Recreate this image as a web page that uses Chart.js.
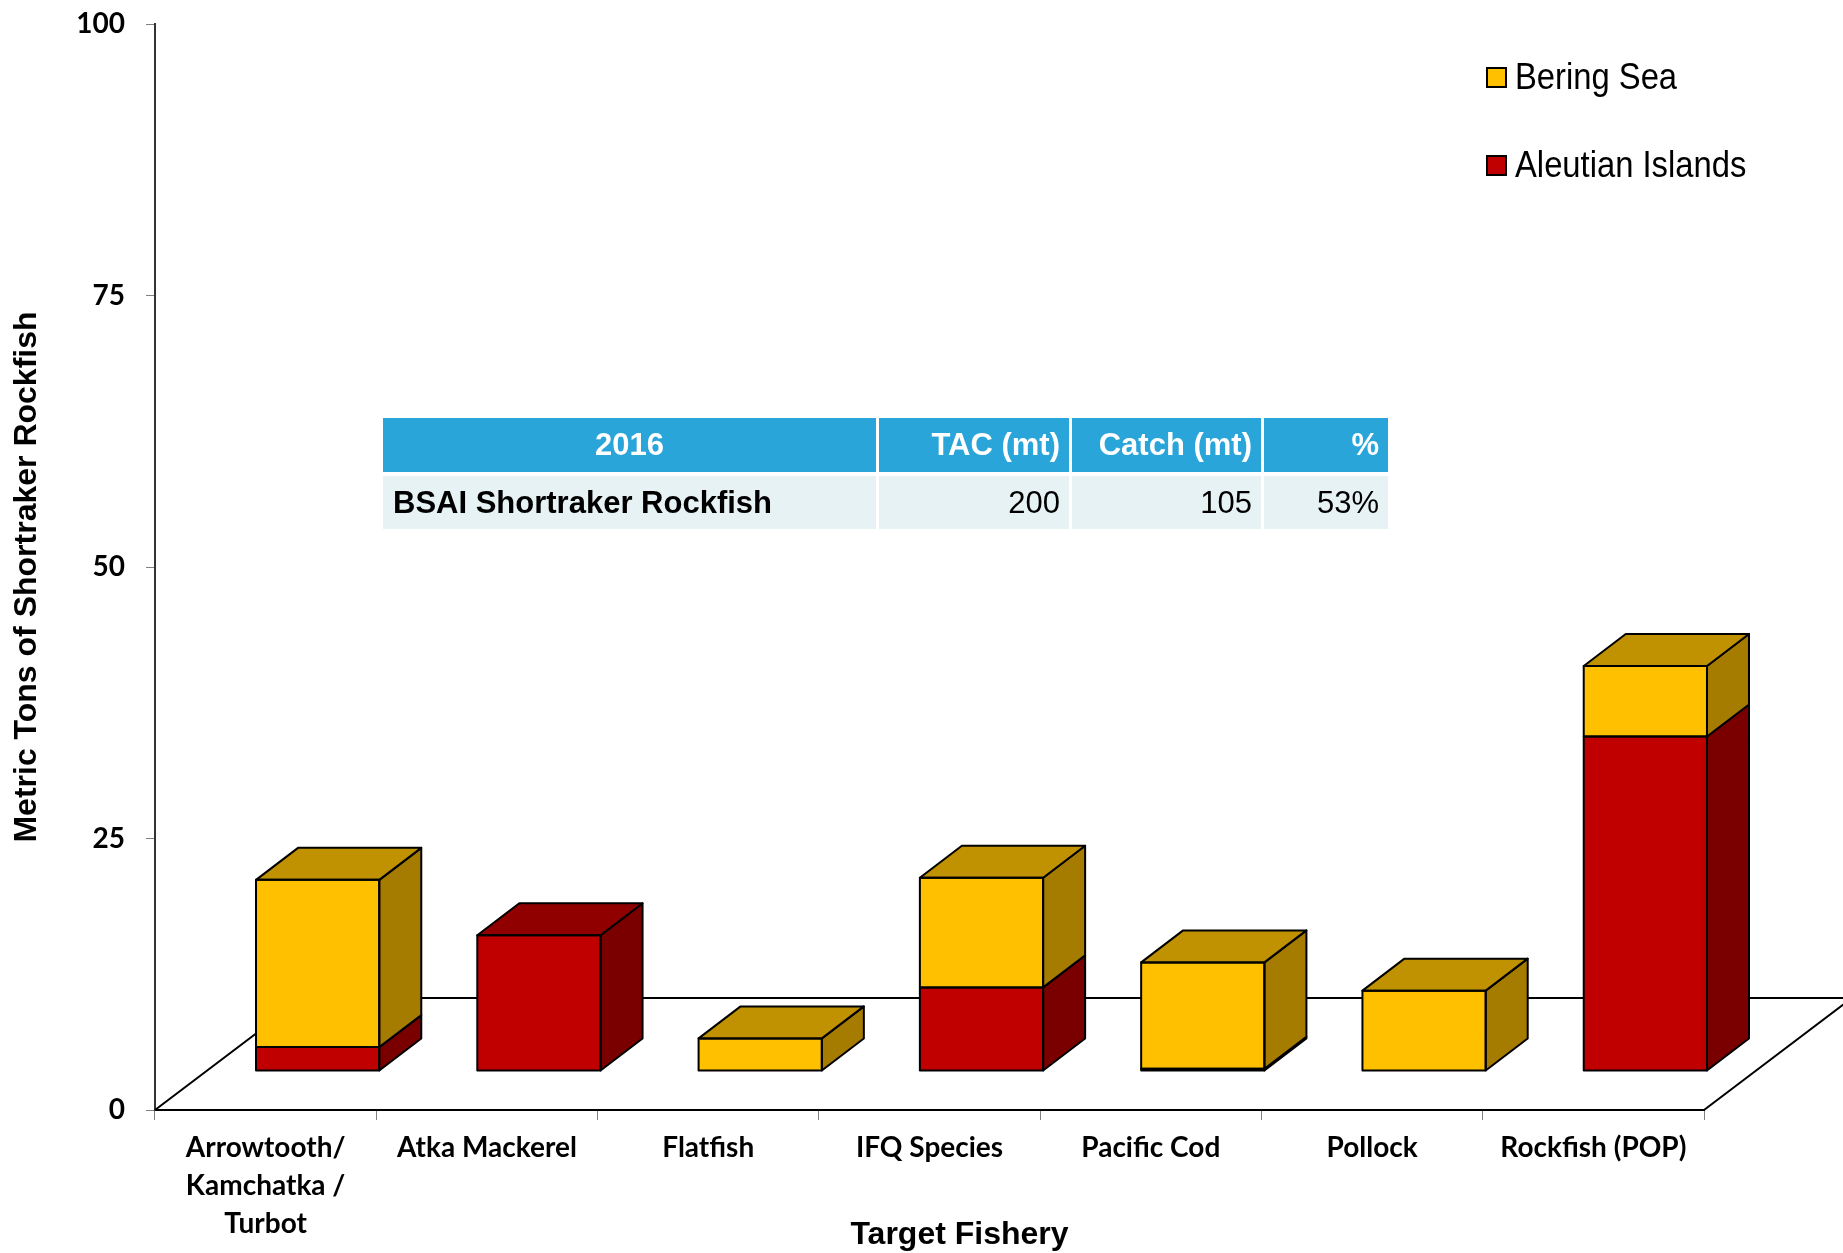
<!DOCTYPE html>
<html>
<head>
<meta charset="utf-8">
<script src="https://cdn.jsdelivr.net/npm/chart.js@4.4.1/dist/chart.umd.min.js"></script>
<style>
  html, body { margin: 0; padding: 0; background: #fff; }
  #wrap { position: relative; width: 1843px; height: 1253px; }
  #chart { position: absolute; left: 0; top: 0; }
  #tac {
    position: absolute; left: 380px; top: 414px;
    border-collapse: separate; border-spacing: 3px 4px;
    table-layout: fixed;
    font-family: 'Liberation Sans', Arial, sans-serif; font-size: 31px;
  }
  #tac td { box-sizing: border-box; padding: 0 9px; white-space: nowrap; }
  #tac tr.head td { background: #2AA5D9; color: #fff; font-weight: bold; height: 54px; text-align: right; }
  #tac tr.body td { background: #E7F2F4; color: #000; height: 53px; text-align: right; }
  #tac tr.head td:first-child { text-align: center; }
  #tac tr.body td:first-child { text-align: left; font-weight: bold; padding-left: 10px; }
</style>
</head>
<body>
<div id="wrap">
  <canvas id="chart" width="1843" height="1253"></canvas>
  <table id="tac"></table>
</div>
<script>
'use strict';

const categories = [['Arrowtooth/', 'Kamchatka /', 'Turbot'], 'Atka Mackerel', 'Flatfish', 'IFQ Species', 'Pacific Cod', 'Pollock', 'Rockfish (POP)'];
const beringSea = [15.4, 0, 3.0, 10.1, 9.8, 7.4, 6.5];
const aleutianIslands = [2.2, 12.5, 0, 7.7, 0.2, 0, 30.8];
const yTicks = [0, 25, 50, 75, 100];

const tableHeader = ['2016', 'TAC (mt)', 'Catch (mt)', '%'];
const tableRow = ['BSAI Shortraker Rockfish', '200', '105', '53%'];
const colWidths = [493, 190, 189, 124];

// the little table sitting over the plot
const table = document.getElementById('tac');
[[tableHeader, 'head'], [tableRow, 'body']].forEach(([cells, cls]) => {
  const tr = document.createElement('tr');
  tr.className = cls;
  cells.forEach((txt, i) => {
    const td = document.createElement('td');
    td.style.width = colWidths[i] + 'px';
    td.textContent = txt;
    tr.appendChild(td);
  });
  table.appendChild(tr);
});

// 3D look: bars sit half way back on the floor
const SHIFT_X = 52, SHIFT_Y = 39;
const DEPTH_X = 42, DEPTH_Y = 32;
const FLOOR_X = 148, FLOOR_Y = 112;

const box3d = {
  id: 'box3d',
  beforeDatasetsDraw(chart) {
    const {ctx, chartArea: a} = chart;
    ctx.save();
    ctx.strokeStyle = '#000';
    ctx.lineWidth = 2;
    ctx.beginPath();
    ctx.moveTo(a.left, a.bottom);
    ctx.lineTo(a.left + FLOOR_X, a.bottom - FLOOR_Y);
    ctx.lineTo(a.right + FLOOR_X, a.bottom - FLOOR_Y);
    ctx.moveTo(a.right, a.bottom);
    ctx.lineTo(a.right + FLOOR_X, a.bottom - FLOOR_Y);
    ctx.stroke();
    ctx.restore();

    ctx.save();
    ctx.translate(SHIFT_X, -SHIFT_Y);
  },
  afterDatasetsDraw(chart) {
    const ctx = chart.ctx;
    const sets = chart.data.datasets;
    ctx.lineWidth = 2;
    ctx.strokeStyle = '#000';
    ctx.lineJoin = 'round';
    for (let i = 0; i < categories.length; i++) {
      let topSet = -1;
      sets.forEach((ds, d) => { if (ds.data[i]) topSet = d; });
      sets.forEach((ds, d) => {
        if (!ds.data[i]) return;
        const el = chart.getDatasetMeta(d).data[i];
        const {x, y, base, width} = el.getProps(['x', 'y', 'base', 'width'], true);
        const l = x - width / 2, r = x + width / 2;
        // side
        ctx.beginPath();
        ctx.moveTo(r, y);
        ctx.lineTo(r + DEPTH_X, y - DEPTH_Y);
        ctx.lineTo(r + DEPTH_X, base - DEPTH_Y);
        ctx.lineTo(r, base);
        ctx.closePath();
        ctx.fillStyle = ds.sideColor;
        ctx.fill();
        ctx.stroke();
        // top
        if (d === topSet) {
          ctx.beginPath();
          ctx.moveTo(l, y);
          ctx.lineTo(l + DEPTH_X, y - DEPTH_Y);
          ctx.lineTo(r + DEPTH_X, y - DEPTH_Y);
          ctx.lineTo(r, y);
          ctx.closePath();
          ctx.fillStyle = ds.topColor;
          ctx.fill();
          ctx.stroke();
        }
        ctx.strokeRect(l, y, width, base - y);
      });
    }
    ctx.restore();
  }
};

const legendBox = {
  id: 'legendBox',
  afterDraw(chart) {
    const ctx = chart.ctx;
    const items = chart.data.datasets.slice().reverse();
    ctx.save();
    ctx.font = '36px "Liberation Sans", Arial, sans-serif';
    ctx.textBaseline = 'middle';
    items.forEach((ds, k) => {
      const y = 78 + k * 88;
      ctx.fillStyle = ds.backgroundColor;
      ctx.fillRect(1487, y - 10, 19, 19);
      ctx.lineWidth = 2;
      ctx.strokeStyle = '#000';
      ctx.strokeRect(1487, y - 10, 19, 19);
      ctx.save();
      ctx.translate(1515, y + 1);
      ctx.scale(0.91, 1);
      ctx.fillStyle = '#000';
      ctx.fillText(ds.label, 0, 0);
      ctx.restore();
    });

    // axis titles, both sit a bit off the plot centre
    const a = chart.chartArea;
    ctx.font = 'bold 32px "Liberation Sans", Arial, sans-serif';
    ctx.textAlign = 'center';
    ctx.fillStyle = '#000';
    ctx.fillText('Target Fishery', (a.left + a.right) / 2 + 30, 1235);
    ctx.save();
    ctx.translate(27, (a.top + a.bottom) / 2 + 10);
    ctx.rotate(-Math.PI / 2);
    ctx.fillText('Metric Tons of Shortraker Rockfish', 0, 0);
    ctx.restore();
    ctx.restore();
  }
};

new Chart(document.getElementById('chart'), {
  type: 'bar',
  data: {
    labels: categories,
    datasets: [{
      label: 'Aleutian Islands',
      data: aleutianIslands,
      backgroundColor: '#C00000',
      sideColor: '#7A0000',
      topColor: '#900000'
    }, {
      label: 'Bering Sea',
      data: beringSea,
      backgroundColor: '#FFC000',
      sideColor: '#A67C00',
      topColor: '#C09100'
    }]
  },
  options: {
    responsive: false,
    devicePixelRatio: 1,
    animation: false,
    layout: { padding: { left: 0, top: 24, right: 139, bottom: 0 } },
    plugins: { legend: { display: false }, tooltip: { enabled: false } },
    datasets: { bar: { categoryPercentage: 0.557, barPercentage: 1, borderWidth: 0, clip: false } },
    scales: {
      x: {
        stacked: true,
        grid: { drawOnChartArea: false, tickLength: 10, color: '#808080', offset: true },
        border: { color: '#000', width: 2 },
        ticks: {
          color: '#000', padding: 9, maxRotation: 0, autoSkip: false,
          font: { family: 'Lato', weight: 'bold', size: 28, lineHeight: 1.35 }
        },
        afterFit(scale) { scale.height = 143; }
      },
      y: {
        stacked: true,
        min: 0,
        max: 100,
        afterBuildTicks(scale) { scale.ticks = yTicks.map(v => ({ value: v })); },
        grid: { drawOnChartArea: false, tickLength: 9, color: '#808080' },
        border: { color: '#333', width: 2 },
        ticks: { color: '#000', padding: 21, font: { family: 'Lato', weight: 'bold', size: 28 } },
        afterFit(scale) {
          scale.width = 155;
          scale.paddingTop = 0;
        }
      }
    }
  },
  plugins: [box3d, legendBox]
});
</script>
</body>
</html>
